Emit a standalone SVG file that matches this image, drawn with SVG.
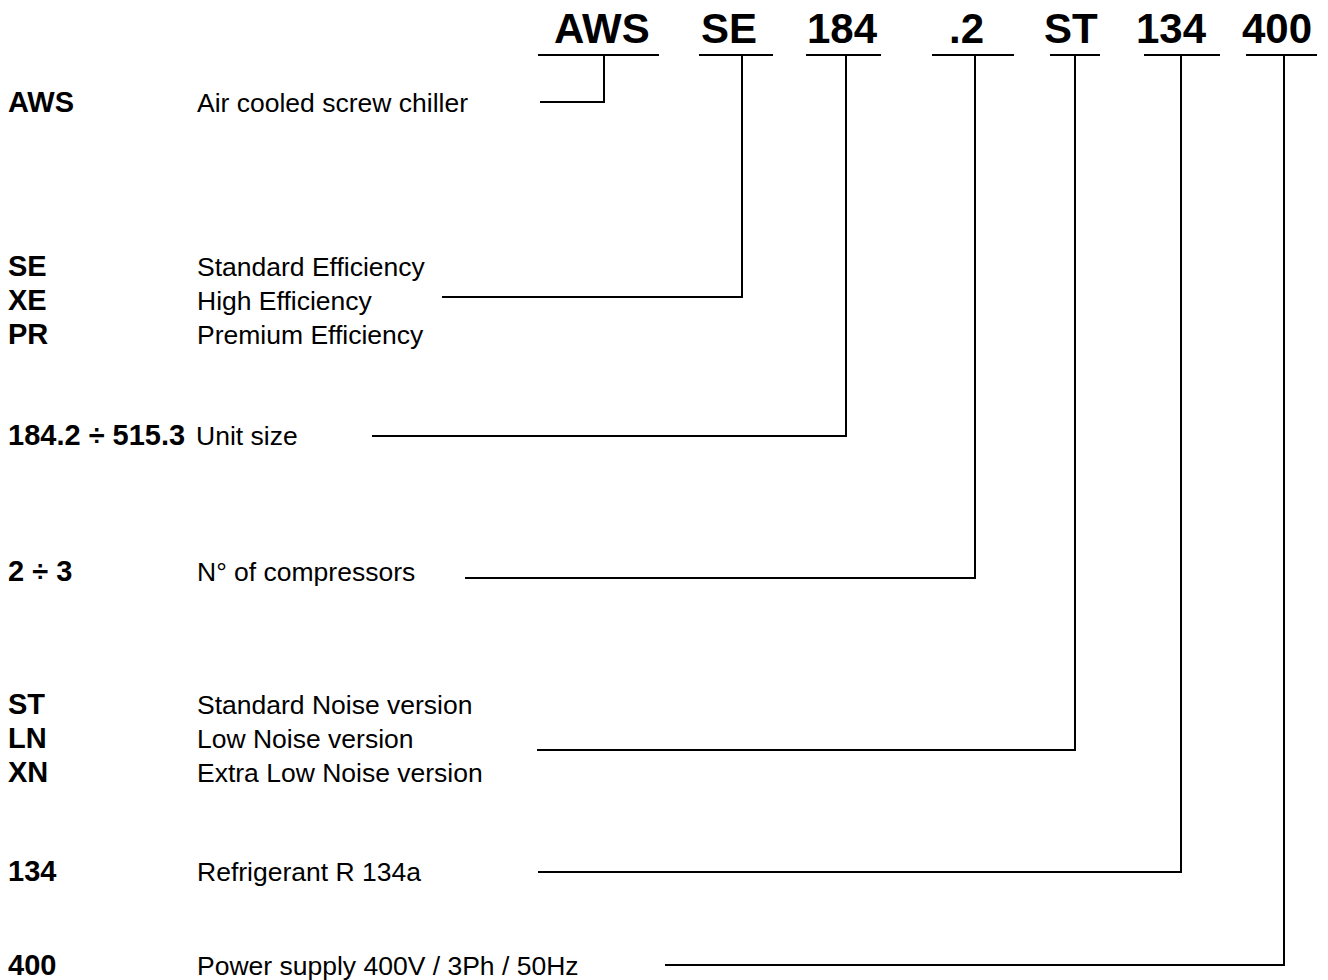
<svg xmlns="http://www.w3.org/2000/svg" width="1328" height="980" viewBox="0 0 1328 980">
<style>
.t{font-family:"Liberation Sans",Arial,sans-serif;font-weight:bold;font-size:42px;fill:#000}
.k{font-family:"Liberation Sans",Arial,sans-serif;font-weight:bold;font-size:29px;fill:#000}
.d{font-family:"Liberation Sans",Arial,sans-serif;font-size:26.5px;fill:#000}
.c{fill:none;stroke:#000;stroke-width:2}
</style>
<rect width="1328" height="980" fill="#fff"/>
<g id="code">
<text class="t" x="554" y="43">AWS</text>
<text class="t" x="701" y="43">SE</text>
<text class="t" x="807" y="43">184</text>
<text class="t" x="949" y="43">.2</text>
<text class="t" x="1044" y="43">ST</text>
<text class="t" x="1136" y="43">134</text>
<text class="t" x="1242" y="43">400</text>
</g>
<g id="n-aws">
<text class="k" x="8" y="112">AWS</text>
<text class="d" x="197" y="112">Air cooled screw chiller</text>
</g>
<g id="n-se">
<text class="k" x="8" y="276">SE</text>
<text class="d" x="197" y="276">Standard Efficiency</text>
<text class="k" x="8" y="310">XE</text>
<text class="d" x="197" y="310">High Efficiency</text>
<text class="k" x="8" y="344">PR</text>
<text class="d" x="197" y="344">Premium Efficiency</text>
</g>
<g id="n-size">
<text class="k" x="8" y="445">184.2 ÷ 515.3</text>
<text class="d" x="196" y="445">Unit size</text>
</g>
<g id="n-comp">
<text class="k" x="8" y="581">2 ÷ 3</text>
<text class="d" x="197" y="581">N° of compressors</text>
</g>
<g id="n-noise">
<text class="k" x="8" y="714">ST</text>
<text class="d" x="197" y="714">Standard Noise version</text>
<text class="k" x="8" y="748">LN</text>
<text class="d" x="197" y="748">Low Noise version</text>
<text class="k" x="8" y="782">XN</text>
<text class="d" x="197" y="782">Extra Low Noise version</text>
</g>
<g id="n-ref">
<text class="k" x="8" y="881">134</text>
<text class="d" x="197" y="881">Refrigerant R 134a</text>
</g>
<g id="n-pow">
<text class="k" x="8" y="975">400</text>
<text class="d" x="197" y="975">Power supply 400V / 3Ph / 50Hz</text>
</g>
<g id="connectors" class="c">
<path class="c" d="M538 55H659M604 55V102H540"/>
<path class="c" d="M699 55H773M742 55V297H442"/>
<path class="c" d="M806 55H881M846 55V436H372"/>
<path class="c" d="M932 55H1014M975 55V578H465"/>
<path class="c" d="M1050 55H1100M1075 55V750H537"/>
<path class="c" d="M1144 55H1220M1181 55V872H538"/>
<path class="c" d="M1246 55H1317M1284 55V965H665"/>
</g>
</svg>
